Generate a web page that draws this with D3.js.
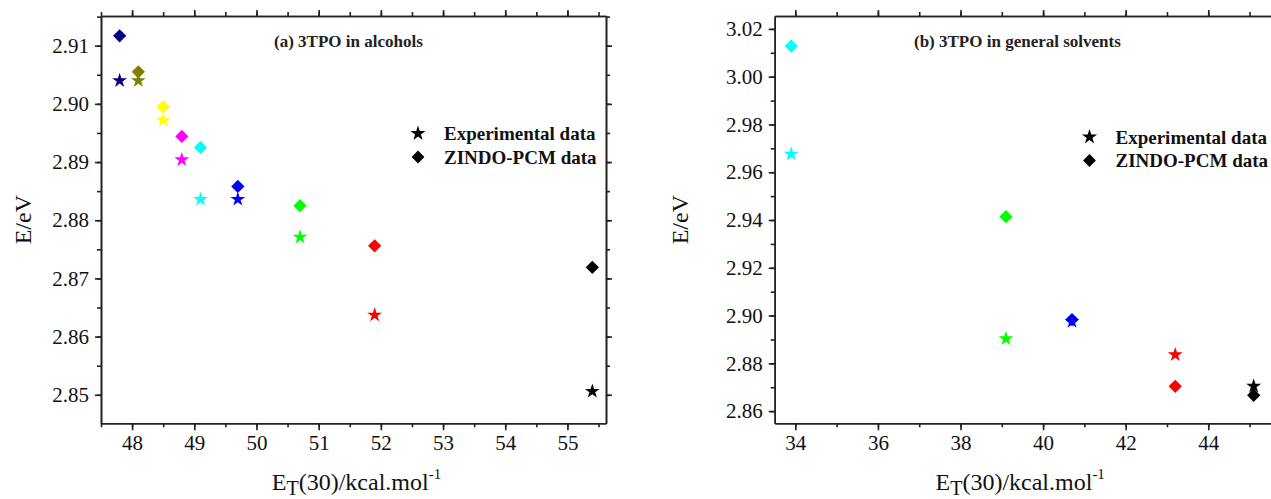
<!DOCTYPE html>
<html lang="en">
<head>
  <meta charset="UTF-8">
  <title>3TPO solvatochromism</title>
  <script src="https://d3js.org/d3.v7.min.js"></script>
  <style>
    body { margin: 0; background: #fff; }
    svg { display: block; }
    .axis path, .axis line { stroke: #222; stroke-width: 1.6px; }
    .label { font-family: "Liberation Serif", "Times New Roman", serif; font-size: 24px; fill: #111; }
    .title { font-family: "Liberation Serif", "Times New Roman", serif; font-size: 17px; font-weight: bold; fill: #222; }
    .legend text { font-family: "Liberation Serif", "Times New Roman", serif; font-size: 19px; font-weight: bold; fill: #111; }
  </style>
</head>
<body>
  <svg id="chart" width="1271" height="499"></svg>

  <script>
    // (a) alcohols
    const alcColors = ["#000080", "#808000", "#ffff00", "#ff00ff", "#00ffff", "#0000ff", "#00ff00", "#ff0000", "#000000"];
    const alcET = [47.8, 48.1, 48.5, 48.8, 49.1, 49.7, 50.7, 51.9, 55.4];
    const alcExp = [2.904, 2.904, 2.8972, 2.8904, 2.8836, 2.8836, 2.8771, 2.8637, 2.8506];
    const alcZindo = [2.9117, 2.9055, 2.8995, 2.8944, 2.8925, 2.8858, 2.8825, 2.8756, 2.8719];

    // (b) general solvents
    const genColors = ["#00ffff", "#00ff00", "#0000ff", "#ff0000", "#000000"];
    const genET = [33.9, 39.1, 40.7, 43.2, 45.1];
    const genExp = [2.9676, 2.8903, 2.8975, 2.8836, 2.8704];
    const genZindo = [3.0128, 2.9414, 2.8983, 2.8704, 2.8666];

    const alcXTicks = [48, 49, 50, 51, 52, 53, 54, 55];
    const alcYTicks = [2.85, 2.86, 2.87, 2.88, 2.89, 2.90, 2.91];
    const genXTicks = [34, 36, 38, 40, 42, 44];
    const genYTicks = [2.86, 2.88, 2.90, 2.92, 2.94, 2.96, 2.98, 3.00, 3.02];

    const legendLabels = ["Experimental data", "ZINDO-PCM data"];

    const svg = d3.select("#chart");
    const star = d3.symbol().type(d3.symbolStar).size(68);
    const diamond = d3.symbol().type(d3.symbolDiamond2).size(112);
    const serif = "'Liberation Serif', 'Times New Roman', serif";

    // axis group with tick labels forced to the serif face
    function addAxis(g, transform, axis) {
      const a = g.append("g").attr("class", "axis").attr("transform", transform).call(axis);
      a.attr("font-family", serif).attr("font-size", 21);
      a.selectAll("text").style("font-family", serif).style("font-size", "21px").attr("fill", "#111");
      return a;
    }

    function panel(opt) {
      const x = d3.scaleLinear().domain(opt.xDomain).range([opt.left, opt.right]);
      const y = d3.scaleLinear().domain(opt.yDomain).range([opt.bottom, opt.top]);
      const g = svg.append("g");

      const minorX = d3.range(Math.ceil(opt.xDomain[0] / opt.xMinor) * opt.xMinor, opt.xDomain[1], opt.xMinor);
      const minorY = d3.range(Math.ceil(opt.yDomain[0] / opt.yMinor - 1e-6) * opt.yMinor, opt.yDomain[1], opt.yMinor);

      // minor ticks on all four sides
      addAxis(g, `translate(0,${opt.bottom})`, d3.axisBottom(x).tickValues(minorX).tickSize(4).tickSizeOuter(0).tickFormat(""));
      addAxis(g, `translate(0,${opt.top})`, d3.axisTop(x).tickValues(minorX).tickSize(4).tickSizeOuter(0).tickFormat(""));
      addAxis(g, `translate(${opt.left},0)`, d3.axisLeft(y).tickValues(minorY).tickSize(4).tickSizeOuter(0).tickFormat(""));
      addAxis(g, `translate(${opt.right},0)`, d3.axisRight(y).tickValues(minorY).tickSize(4).tickSizeOuter(0).tickFormat(""));

      // major ticks
      addAxis(g, `translate(0,${opt.bottom})`, d3.axisBottom(x).tickValues(opt.xTicks).tickSize(7).tickSizeOuter(0).tickPadding(5).tickFormat(d3.format("d")));
      addAxis(g, `translate(0,${opt.top})`, d3.axisTop(x).tickValues(opt.xTicks).tickSize(6).tickSizeOuter(0).tickFormat(""));
      addAxis(g, `translate(${opt.left},0)`, d3.axisLeft(y).tickValues(opt.yTicks).tickSize(6).tickSizeOuter(0).tickPadding(6).tickFormat(d3.format(".2f")));
      addAxis(g, `translate(${opt.right},0)`, d3.axisRight(y).tickValues(opt.yTicks).tickSize(6).tickSizeOuter(0).tickFormat(""));

      // markers
      g.selectAll(".dia").data(opt.et).join("path")
        .attr("d", diamond)
        .attr("transform", (d, i) => `translate(${x(d)},${y(opt.zindo[i])})`)
        .attr("fill", (d, i) => opt.colors[i]);
      g.selectAll(".star").data(opt.et).join("path")
        .attr("d", star)
        .attr("transform", (d, i) => `translate(${x(d)},${y(opt.exp[i])})`)
        .attr("fill", (d, i) => opt.colors[i]);

      // title
      g.append("text").attr("class", "title")
        .attr("x", opt.titleX).attr("y", 47).text(opt.title);

      // legend
      const lg = g.append("g").attr("class", "legend");
      [star, diamond].forEach((sym, i) => {
        const yy = opt.legY + i * 23.5;
        lg.append("path").attr("d", i === 0 ? d3.symbol().type(d3.symbolStar).size(70) : d3.symbol().type(d3.symbolDiamond2).size(105))
          .attr("transform", `translate(${opt.legX},${yy})`).attr("fill", "#000");
        lg.append("text").attr("x", opt.legX + 26).attr("y", yy + 6.5).text(legendLabels[i]);
      });

      // axis labels
      g.append("text").attr("class", "label")
        .attr("transform", `translate(${opt.left - opt.yLabelGap},${(opt.top + opt.bottom) / 2}) rotate(-90)`)
        .attr("text-anchor", "middle").text("E/eV");
      const xl = g.append("text").attr("class", "label")
        .attr("x", (opt.left + opt.right) / 2 + opt.xLabelShift).attr("y", 490).attr("text-anchor", "middle");
      xl.append("tspan").text("E");
      xl.append("tspan").attr("dy", 5).attr("font-size", 20).text("T");
      xl.append("tspan").attr("dy", -5).text("(30)/kcal.mol");
      xl.append("tspan").attr("dy", -11).attr("font-size", 15).text("-1");
    }

    panel({
      left: 101, right: 606, top: 16, bottom: 423.3,
      xDomain: [47.5, 55.62], yDomain: [2.8451, 2.9151],
      xTicks: alcXTicks, yTicks: alcYTicks, xMinor: 0.5, yMinor: 0.005,
      et: alcET, exp: alcExp, zindo: alcZindo, colors: alcColors,
      title: "(a) 3TPO in alcohols", titleX: 274,
      legX: 418, legY: 133.5, xLabelShift: 3, yLabelGap: 70
    });

    panel({
      left: 774.7, right: 1279.7, top: 16, bottom: 423.3,
      xDomain: [33.5, 45.73], yDomain: [2.8549, 3.0254],
      xTicks: genXTicks, yTicks: genYTicks, xMinor: 1, yMinor: 0.01,
      et: genET, exp: genExp, zindo: genZindo, colors: genColors,
      title: "(b) 3TPO in general solvents", titleX: 914,
      legX: 1089.5, legY: 137, xLabelShift: -7, yLabelGap: 87
    });
  </script>
</body>
</html>
